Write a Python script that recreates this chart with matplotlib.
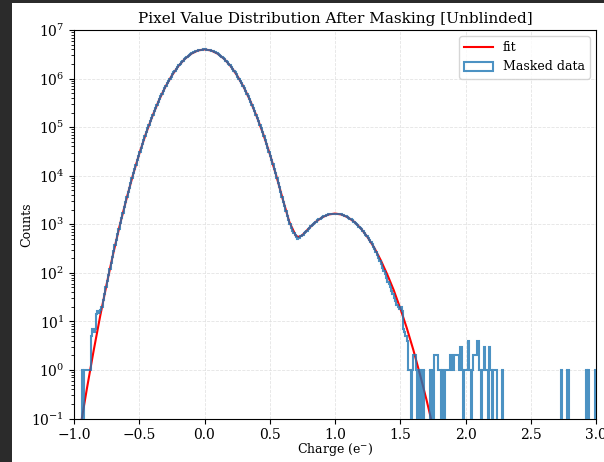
import numpy as np
import matplotlib
matplotlib.use('Agg')
import matplotlib.pyplot as plt
from matplotlib.patches import Rectangle

plt.rcParams['font.family'] = 'serif'
plt.rcParams['mathtext.fontset'] = 'dejavuserif'

# fit curve
fit_x = [-0.95, -0.90, -0.85, -0.80, -0.75, -0.70, -0.65, -0.60, -0.55, -0.50,
         -0.45, -0.40, -0.35, -0.30, -0.25, -0.20, -0.15, -0.10, -0.05, 0.00,
         0.05, 0.10, 0.15, 0.20, 0.25, 0.30, 0.35, 0.40, 0.45, 0.50,
         0.55, 0.60, 0.65, 0.70, 0.725, 0.75, 0.80, 0.85, 0.90, 0.95,
         1.00, 1.05, 1.10, 1.15, 1.20, 1.25, 1.30, 1.35, 1.40, 1.45,
         1.50, 1.55, 1.60, 1.65, 1.70, 1.75]
fit_y = [0.069, 0.43, 2.45, 12.6, 58, 245, 933, 3160, 9970, 28200,
         72200, 166000, 352000, 674000, 1155000, 1810000, 2550000, 3260000, 3790000, 3980000,
         3790000, 3260000, 2550000, 1810000, 1155000, 674000, 352000, 166000, 72200, 28220,
         10010, 3255, 1116, 576, 546, 598, 823, 1110, 1380, 1587,
         1660, 1587, 1380, 1110, 810, 540, 331, 183, 93, 44,
         18.6, 7.3, 2.6, 0.83, 0.25, 0.068]

# histogram, bins of width 0.01; first bin centred at -0.935
first_center = -0.935
counts = [
    # -0.935 .. -0.795
    1, 0, 1, 1, 1, 1, 1, 5, 7, 6, 7, 14, 16, 15, 17,
    # -0.785 .. -0.005
    20, 27, 37, 50, 67, 90, 120, 160, 212, 279,
    367, 480, 627, 813, 1052, 1356, 1740, 2225, 2830, 3590,
    4540, 5710, 7160, 8930, 11110, 13760, 16970, 20850, 25500, 31100,
    37800, 45700, 55000, 66000, 78900, 93900, 111300, 131500, 154700, 181300,
    211500, 246000, 285000, 328000, 377000, 431000, 492000, 558000, 631000, 711000,
    797000, 890000, 991000, 1098000, 1213000, 1334000, 1461000, 1594000, 1732000, 1875000,
    2021000, 2171000, 2323000, 2475000, 2626000, 2775000, 2922000, 3064000, 3200000, 3329000,
    3450000, 3561000, 3662000, 3750000, 3825000, 3886000, 3932000, 3963000, 3980000,
    # 0.005 .. 0.495
    3980000, 3963000, 3932000, 3886000, 3825000, 3750000, 3662000, 3561000, 3450000, 3329000,
    3200000, 3064000, 2922000, 2775000, 2626000, 2475000, 2323000, 2171000, 2021000, 1875000,
    1732000, 1594000, 1461000, 1334000, 1213000, 1098000, 991000, 890000, 797000, 711000,
    631000, 558000, 492000, 431000, 377000, 328000, 285000, 246000, 211500, 181300,
    154700, 131500, 111300, 93900, 78900, 66000, 55000, 45700, 37800, 31100,
    # 0.505 .. 1.305
    25520, 20870, 17000, 13790, 11150, 8980, 7215, 5775, 4615, 3677,
    2931, 2341, 1873, 1508, 1225, 1009, 848, 729, 646, 591,
    545, 500, 510, 560, 583, 615, 652, 696, 743, 795,
    849, 905, 963, 1022, 1081, 1138, 1196, 1253, 1309, 1361,
    1411, 1457, 1500, 1538, 1572, 1601, 1624, 1641, 1653, 1659,
    1659, 1653, 1641, 1624, 1601, 1572, 1538, 1500, 1457, 1411,
    1361, 1309, 1253, 1196, 1138, 1078, 1018, 957, 897, 838,
    780, 723, 669, 615, 565, 516, 470, 427, 386, 348,
    312,
    # 1.315 .. 1.645
    265, 232, 200, 172, 150, 128, 110, 95, 80, 66,
    58, 50, 42, 36, 30, 26, 22, 20, 18, 20,
    16, 7, 6, 5, 4, 1, 1, 0, 1, 2,
    2, 1, 0, 1,
]
tail_x = [1.675, 1.735, 1.765, 1.775, 1.785, 1.795, 1.805, 1.825, 1.845, 1.855,
          1.865, 1.875, 1.885, 1.895, 1.905, 1.915, 1.925, 1.935, 1.945, 1.955,
          1.965, 1.975, 1.995, 2.005, 2.015, 2.025, 2.035, 2.055, 2.065, 2.075,
          2.085, 2.095, 2.105, 2.115, 2.135, 2.145, 2.155, 2.165, 2.185, 2.195,
          2.215, 2.225, 2.235, 2.285, 2.735, 2.785, 2.925, 2.945, 2.995]
tail_counts = [1, 1, 2, 2, 2, 1, 1, 1, 1, 1,
               1, 1, 2, 2, 1, 2, 2, 2, 2, 1,
               3, 1, 1, 1, 1, 4, 1, 1, 2, 2,
               2, 4, 1, 1, 1, 3, 1, 1, 3, 1,
               1, 1, 1, 1, 1, 1, 1, 1, 1]

body_x = first_center + 0.01 * np.arange(len(counts))
centers = np.concatenate([body_x, tail_x])
weights = np.concatenate([counts, tail_counts])
edges = np.linspace(-1, 3, 401)

fig = plt.figure(figsize=(6.04, 4.62), dpi=100, facecolor='#2b2b2b')
fig.patches.append(Rectangle((12 / 604, 0), 1, 1 - 3 / 462, transform=fig.transFigure,
                             facecolor='white', edgecolor='none', zorder=-1))
ax = fig.add_axes([74 / 604, 1 - 418.5 / 462, 522 / 604, 388.5 / 462])

ax.plot(fit_x, fit_y, color='red', lw=1.5, label='fit', zorder=2)
ax.hist(centers, bins=edges, weights=weights, histtype='step', color='#1f77b4',
        lw=1.5, alpha=0.8, label='Masked data', zorder=3)

ax.set_yscale('log')
ax.set_xlim(-1, 3)
ax.set_ylim(0.1, 1e7)
ax.grid(True, ls='--', lw=0.6, color='#dddddd', alpha=0.8)
ax.set_title('Pixel Value Distribution After Masking [Unblinded]', fontsize=11, pad=5)
ax.set_xlabel('Charge (e$^{-}$)', fontsize=9, labelpad=-0.6)
ax.set_ylabel('Counts', fontsize=9, labelpad=-1)
ax.legend(loc='upper right', fontsize=9, handlelength=2.3)

fig.savefig('out.png', dpi=100, facecolor=fig.get_facecolor())
